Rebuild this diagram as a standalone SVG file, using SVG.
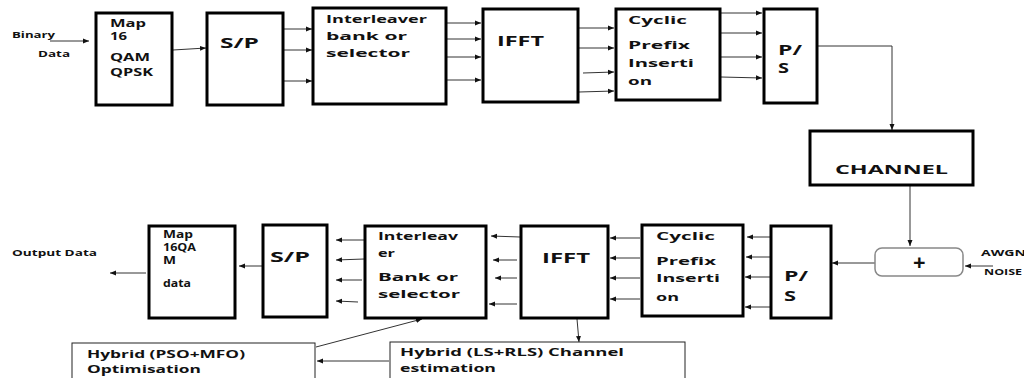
<svg xmlns="http://www.w3.org/2000/svg" width="1024" height="378" viewBox="0 0 1024 378">
<style>
.b{fill:#fff;stroke:#000;stroke-width:3}
.t{fill:#fff;stroke:#222;stroke-width:1}
.w{fill:#fff;stroke:#888;stroke-width:1.5}
text{font-family:"Open Sans","Liberation Sans",sans-serif;font-weight:bold;fill:#111}
.s11{font-size:11px}
.s8{font-size:8px}
.s14{font-size:14px}
.s15{font-size:15px}
.s12{font-size:12px}
.c line,.c path{stroke:#333;stroke-width:1;fill:none;marker-end:url(#a)}
</style>
<defs>
<marker id="a" markerUnits="userSpaceOnUse" markerWidth="7" markerHeight="6" refX="6" refY="3" orient="auto">
<path d="M0,0.5 L6,3 L0,5.5 z" fill="#111"/>
</marker>
</defs>
<rect width="1024" height="378" fill="#fff"/>

<g id="connectors" class="c">
<line x1="50" y1="41" x2="89" y2="41"/>
<line x1="173" y1="50" x2="206" y2="48"/>
<line x1="284" y1="29" x2="312" y2="29"/>
<line x1="284" y1="50" x2="312" y2="50"/>
<line x1="284" y1="81" x2="312" y2="81"/>
<line x1="447" y1="23" x2="481" y2="23"/>
<line x1="441" y1="39" x2="481" y2="39"/>
<line x1="441" y1="57" x2="481" y2="57"/>
<line x1="441" y1="80" x2="481" y2="80"/>
<line x1="579" y1="28" x2="614" y2="28"/>
<line x1="579" y1="48" x2="614" y2="48"/>
<line x1="583" y1="73" x2="614" y2="72"/>
<line x1="579" y1="92" x2="614" y2="91"/>
<line x1="721" y1="13" x2="762" y2="13"/>
<line x1="721" y1="33" x2="762" y2="33"/>
<line x1="721" y1="57" x2="762" y2="57"/>
<line x1="721" y1="77" x2="762" y2="78"/>
<path d="M818,46 H892 V130"/>
<line x1="910" y1="186" x2="910" y2="246"/>
<line x1="993" y1="266" x2="965" y2="266"/>
<line x1="875" y1="263" x2="832" y2="263"/>
<line x1="770" y1="237" x2="747" y2="237"/>
<line x1="770" y1="257" x2="746" y2="257"/>
<line x1="770" y1="277" x2="745" y2="277"/>
<line x1="773" y1="307" x2="745" y2="307"/>
<line x1="640" y1="238" x2="610" y2="238"/>
<line x1="640" y1="258" x2="610" y2="258"/>
<line x1="640" y1="278" x2="610" y2="278"/>
<line x1="640" y1="299" x2="610" y2="299"/>
<line x1="520" y1="237" x2="491" y2="236"/>
<line x1="517" y1="260" x2="493" y2="260"/>
<line x1="517" y1="278" x2="495" y2="278"/>
<line x1="517" y1="304" x2="489" y2="304"/>
<line x1="364" y1="240" x2="336" y2="240"/>
<line x1="364" y1="259" x2="336" y2="260"/>
<line x1="362" y1="280" x2="336" y2="280"/>
<line x1="358" y1="302" x2="336" y2="301"/>
<line x1="262" y1="266" x2="239" y2="266"/>
<line x1="146" y1="273" x2="110" y2="273"/>
<line x1="316" y1="347" x2="422" y2="319"/>
<line x1="389" y1="361" x2="317" y2="361"/>
<line x1="577" y1="319" x2="579" y2="342"/>
</g>

<g id="binary-data">
<text class="s8" x="12" y="38" textLength="43" lengthAdjust="spacingAndGlyphs">Binary</text>
<text class="s8" x="38" y="57" textLength="32" lengthAdjust="spacingAndGlyphs">Data</text>
</g>
<g id="map-top">
<rect class="b" x="96" y="13" width="76" height="92"/>
<text class="s11" x="110" y="27" textLength="36" lengthAdjust="spacingAndGlyphs">Map</text>
<text class="s11" x="110" y="40" textLength="17" lengthAdjust="spacingAndGlyphs">16</text>
<text class="s11" x="110" y="61" textLength="40" lengthAdjust="spacingAndGlyphs">QAM</text>
<text class="s11" x="110" y="76" textLength="43" lengthAdjust="spacingAndGlyphs">QPSK</text>
</g>
<g id="sp-top">
<rect class="b" x="207" y="13" width="76" height="92"/>
<text class="s14" x="220" y="48" textLength="39" lengthAdjust="spacingAndGlyphs">S/P</text>
</g>
<g id="interleaver-top">
<rect class="b" x="313" y="8" width="133" height="96"/>
<text class="s11" x="326" y="23" textLength="101" lengthAdjust="spacingAndGlyphs">Interleaver</text>
<text class="s11" x="326" y="40" textLength="81" lengthAdjust="spacingAndGlyphs">bank or</text>
<text class="s11" x="326" y="57" textLength="84" lengthAdjust="spacingAndGlyphs">selector</text>
</g>
<g id="ifft-top">
<rect class="b" x="483" y="9" width="95" height="93"/>
<text class="s15" x="497" y="46" textLength="47" lengthAdjust="spacingAndGlyphs">IFFT</text>
</g>
<g id="cyclic-top">
<rect class="b" x="616" y="9" width="104" height="91"/>
<text class="s11" x="628" y="24" textLength="59" lengthAdjust="spacingAndGlyphs">Cyclic</text>
<text class="s11" x="628" y="49" textLength="62" lengthAdjust="spacingAndGlyphs">Prefix</text>
<text class="s11" x="628" y="67" textLength="66" lengthAdjust="spacingAndGlyphs">Inserti</text>
<text class="s11" x="628" y="85" textLength="24" lengthAdjust="spacingAndGlyphs">on</text>
</g>
<g id="ps-top">
<rect class="b" x="764" y="9" width="53" height="94"/>
<text class="s14" x="778" y="55" textLength="24" lengthAdjust="spacingAndGlyphs">P/</text>
<text class="s14" x="778" y="73" textLength="11" lengthAdjust="spacingAndGlyphs">S</text>
</g>
<g id="channel">
<rect class="b" x="810" y="131" width="163" height="54"/>
<text class="s12" x="835" y="174" textLength="113" lengthAdjust="spacingAndGlyphs">CHANNEL</text>
</g>
<g id="adder">
<rect class="w" x="875" y="248" width="88" height="28" rx="7"/>
<text x="913" y="270" font-size="22">+</text>
</g>
<g id="awgn">
<text class="s8" x="981" y="256" textLength="45" lengthAdjust="spacingAndGlyphs">AWGN</text>
<text class="s8" x="984" y="275" textLength="38" lengthAdjust="spacingAndGlyphs">NOISE</text>
</g>
<g id="ps-bottom">
<rect class="b" x="771" y="226" width="60" height="92"/>
<text class="s14" x="784" y="281" textLength="24" lengthAdjust="spacingAndGlyphs">P/</text>
<text class="s14" x="784" y="301" textLength="12" lengthAdjust="spacingAndGlyphs">S</text>
</g>
<g id="cyclic-bottom">
<rect class="b" x="642" y="225" width="101" height="91"/>
<text class="s11" x="656" y="240" textLength="59" lengthAdjust="spacingAndGlyphs">Cyclic</text>
<text class="s11" x="656" y="265" textLength="60" lengthAdjust="spacingAndGlyphs">Prefix</text>
<text class="s11" x="656" y="282" textLength="64" lengthAdjust="spacingAndGlyphs">Inserti</text>
<text class="s11" x="656" y="301" textLength="23" lengthAdjust="spacingAndGlyphs">on</text>
</g>
<g id="ifft-bottom">
<rect class="b" x="521" y="226" width="87" height="92"/>
<text class="s15" x="542" y="263" textLength="48" lengthAdjust="spacingAndGlyphs">IFFT</text>
</g>
<g id="interleaver-bottom">
<rect class="b" x="365" y="226" width="121" height="92"/>
<text class="s11" x="378" y="240" textLength="80" lengthAdjust="spacingAndGlyphs">Interleav</text>
<text class="s11" x="378" y="257" textLength="17" lengthAdjust="spacingAndGlyphs">er</text>
<text class="s11" x="378" y="281" textLength="80" lengthAdjust="spacingAndGlyphs">Bank or</text>
<text class="s11" x="378" y="298" textLength="82" lengthAdjust="spacingAndGlyphs">selector</text>
</g>
<g id="sp-bottom">
<rect class="b" x="263" y="225" width="64" height="92"/>
<text class="s14" x="270" y="262" textLength="40" lengthAdjust="spacingAndGlyphs">S/P</text>
</g>
<g id="map-bottom">
<rect class="b" x="149" y="226" width="86" height="92"/>
<text class="s11" x="163" y="238" textLength="30" lengthAdjust="spacingAndGlyphs">Map</text>
<text class="s11" x="163" y="251" textLength="33" lengthAdjust="spacingAndGlyphs">16QA</text>
<text class="s11" x="163" y="264" textLength="13" lengthAdjust="spacingAndGlyphs">M</text>
<text class="s11" x="163" y="287" textLength="28" lengthAdjust="spacingAndGlyphs">data</text>
</g>
<g id="output-data">
<text class="s8" x="12" y="256" textLength="85" lengthAdjust="spacingAndGlyphs">Output Data</text>
</g>
<g id="pso-mfo">
<rect class="t" x="72" y="343" width="243" height="45"/>
<text class="s11" x="87" y="358" textLength="158" lengthAdjust="spacingAndGlyphs">Hybrid  (PSO+MFO)</text>
<text class="s11" x="87" y="373" textLength="114" lengthAdjust="spacingAndGlyphs">Optimisation</text>
</g>
<g id="ls-rls">
<rect class="t" x="390" y="342" width="295" height="46"/>
<text class="s11" x="400" y="356" textLength="224" lengthAdjust="spacingAndGlyphs">Hybrid  (LS+RLS) Channel</text>
<text class="s11" x="400" y="372" textLength="96" lengthAdjust="spacingAndGlyphs">estimation</text>
</g>
</svg>
